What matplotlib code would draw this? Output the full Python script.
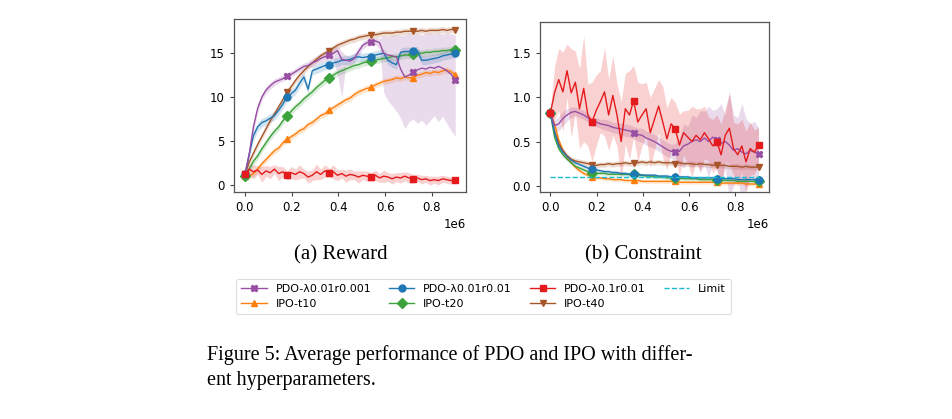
import numpy as np
import matplotlib
matplotlib.use("Agg")
import matplotlib.pyplot as plt
from matplotlib.ticker import ScalarFormatter

# training steps (both panels share the same grid, 0 .. 0.9e6)
steps = np.arange(51) * 18000

# ---------------- reward ----------------
rew_pdo_a = [1.2, 3.5, 6.6, 8.7, 10.0, 10.8, 11.3, 11.7, 11.9, 12.1,
             12.4, 12.6, 12.9, 13.2, 13.5, 13.6, 13.9, 14.1, 14.4, 14.6,
             14.8, 15.0, 15.3, 14.3, 14.2, 14.1, 14.4, 15.2, 15.9, 16.2,
             16.3, 16.4, 16.2, 15.0, 14.8, 14.7, 14.6, 13.2, 12.3, 12.5,
             12.9, 13.1, 13.3, 13.2, 13.4, 13.3, 13.5, 13.3, 13.0, 12.6,
             12.0]
rew_pdo_a_lo = [1.0, 3.0, 6.0, 8.2, 9.6, 10.4, 10.9, 11.3, 11.6, 11.8,
                12.1, 12.3, 12.6, 12.9, 13.2, 13.3, 13.5, 13.7, 13.9, 14.1,
                14.2, 14.4, 12.5, 10.0, 13.6, 13.6, 13.9, 14.7, 15.5, 15.8,
                15.9, 16.0, 15.5, 10.5, 9.6, 9.0, 8.4, 7.6, 6.4, 7.2,
                7.5, 7.0, 7.4, 6.8, 7.3, 7.9, 7.2, 7.8, 7.0, 6.2,
                5.5]
rew_pdo_a_hi = [1.4, 4.0, 7.2, 9.2, 10.4, 11.2, 11.7, 12.1, 12.3, 12.5,
                12.8, 13.0, 13.3, 13.6, 13.9, 14.1, 14.4, 14.7, 15.0, 15.2,
                15.4, 15.6, 15.8, 15.2, 14.8, 14.7, 15.0, 15.7, 16.3, 16.6,
                16.7, 16.8, 16.7, 17.0, 16.9, 17.0, 17.1, 17.0, 17.1, 17.2,
                17.1, 17.2, 17.1, 17.2, 17.3, 17.2, 17.3, 17.2, 17.3, 17.2,
                17.1]
rew_pdo_b = [1.2, 3.5, 5.6, 6.6, 7.1, 7.3, 7.6, 7.9, 8.5, 9.2,
             10.0, 10.4, 10.8, 11.6, 12.3, 10.9, 13.0, 13.2, 13.4, 13.6,
             13.7, 13.9, 14.0, 14.2, 14.2, 14.3, 14.5, 14.6, 14.5, 14.6,
             14.6, 14.8, 14.9, 15.0, 14.2, 13.9, 13.7, 15.1, 15.2, 15.2,
             15.2, 15.3, 14.2, 14.2, 14.3, 14.4, 14.5, 14.7, 14.8, 14.9,
             15.0]
rew_pdo_c = [1.2, 1.8, 1.5, 1.7, 1.2, 1.6, 1.4, 1.8, 1.3, 1.5,
             1.1, 1.4, 1.2, 1.5, 1.3, 0.9, 1.1, 1.5, 1.2, 1.6,
             1.4, 1.5, 1.1, 1.3, 1.0, 1.2, 1.1, 0.9, 1.1, 1.0,
             0.9, 1.1, 0.8, 1.0, 0.9, 0.7, 0.9, 0.8, 1.0, 0.8,
             0.7, 0.8, 0.6, 0.7, 0.5, 0.6, 0.5, 0.7, 0.6, 0.5,
             0.6]
rew_pdo_c_spread = [0.3, 0.6, 0.8, 0.5, 0.9, 0.6, 0.7, 0.5, 0.8, 0.6,
                    0.5, 0.7, 0.6, 0.8, 0.5, 0.7, 0.6, 0.9, 0.6, 0.7,
                    0.5, 0.8, 0.6, 0.5, 0.7, 0.6, 0.5, 0.7, 0.5, 0.6,
                    0.5, 0.6, 0.5, 0.7, 0.5, 0.6, 0.5, 0.6, 0.5, 0.6,
                    0.5, 0.4, 0.5, 0.4, 0.5, 0.4, 0.5, 0.4, 0.4, 0.4,
                    0.3]
rew_ipo_10 = [1.0, 1.0, 1.3, 1.8, 2.4, 2.9, 3.4, 3.9, 4.2, 4.8,
              5.2, 5.5, 5.8, 6.2, 6.4, 6.9, 7.1, 7.5, 7.9, 8.1,
              8.5, 8.8, 9.1, 9.4, 9.7, 9.9, 10.3, 10.6, 10.8, 11.0,
              11.1, 11.4, 11.6, 11.8, 11.9, 12.0, 12.2, 12.1, 12.3, 12.2,
              12.2, 12.5, 12.6, 12.8, 12.7, 12.9, 12.8, 13.0, 13.1, 12.9,
              12.5]
rew_ipo_20 = [1.0, 1.8, 2.7, 3.3, 4.1, 4.8, 5.5, 6.1, 6.6, 7.3,
              7.9, 8.4, 8.9, 9.3, 9.8, 10.2, 10.6, 11.1, 11.5, 11.9,
              12.2, 12.5, 12.8, 13.0, 13.2, 13.4, 13.6, 13.7, 13.9, 14.0,
              14.1, 14.2, 14.3, 14.4, 14.5, 14.6, 14.6, 14.7, 14.8, 14.8,
              14.9, 15.0, 15.0, 15.1, 15.1, 15.2, 15.2, 15.3, 15.3, 15.4,
              15.4]
rew_ipo_40 = [1.2, 2.6, 3.6, 4.6, 5.5, 6.4, 7.3, 8.1, 8.9, 9.7,
              10.6, 11.2, 11.9, 12.5, 13.0, 13.5, 13.9, 14.3, 14.7, 15.0,
              15.3, 15.6, 15.9, 16.1, 16.3, 16.5, 16.6, 16.8, 16.9, 17.0,
              17.1, 17.1, 17.2, 17.3, 17.3, 17.3, 17.4, 17.4, 17.5, 17.5,
              17.5, 17.5, 17.6, 17.5, 17.6, 17.6, 17.6, 17.7, 17.6, 17.7,
              17.7]

# ---------------- constraint ----------------
con_pdo_a = [0.82, 0.68, 0.70, 0.76, 0.80, 0.83, 0.84, 0.82, 0.80, 0.77,
             0.72, 0.72, 0.70, 0.69, 0.68, 0.66, 0.65, 0.64, 0.63, 0.62,
             0.60, 0.58, 0.57, 0.54, 0.52, 0.50, 0.47, 0.44, 0.41, 0.39,
             0.38, 0.39, 0.45, 0.47, 0.50, 0.52, 0.50, 0.54, 0.50, 0.55,
             0.52, 0.48, 0.50, 0.46, 0.40, 0.42, 0.38, 0.36, 0.40, 0.38,
             0.36]
con_pdo_a_spread = [0.02, 0.06, 0.08, 0.08, 0.07, 0.06, 0.05, 0.05, 0.05, 0.05,
                    0.05, 0.05, 0.05, 0.06, 0.06, 0.06, 0.06, 0.07, 0.07, 0.07,
                    0.07, 0.07, 0.08, 0.08, 0.08, 0.08, 0.08, 0.08, 0.08, 0.08,
                    0.10, 0.15, 0.25, 0.20, 0.30, 0.25, 0.35, 0.30, 0.40, 0.30,
                    0.35, 0.45, 0.30, 0.60, 0.40, 0.35, 0.55, 0.40, 0.30, 0.35,
                    0.30]
con_pdo_b = [0.82, 0.60, 0.45, 0.38, 0.33, 0.29, 0.26, 0.24, 0.22, 0.20,
             0.19, 0.18, 0.17, 0.16, 0.16, 0.15, 0.15, 0.14, 0.14, 0.13,
             0.13, 0.13, 0.12, 0.12, 0.12, 0.12, 0.11, 0.11, 0.11, 0.10,
             0.10, 0.10, 0.10, 0.10, 0.09, 0.09, 0.09, 0.09, 0.09, 0.09,
             0.08, 0.08, 0.08, 0.08, 0.08, 0.07, 0.07, 0.07, 0.07, 0.07,
             0.07]
con_pdo_c = [0.82, 1.05, 1.20, 1.06, 1.30, 1.05, 1.17, 0.87, 1.10, 0.80,
             0.72, 0.85, 0.95, 1.06, 0.80, 1.02, 0.80, 0.50, 0.87, 0.80,
             0.96, 0.72, 0.80, 0.87, 0.60, 0.75, 0.90, 0.72, 0.53, 0.70,
             0.64, 0.46, 0.60, 0.55, 0.50, 0.57, 0.52, 0.60, 0.53, 0.45,
             0.50, 0.35, 0.57, 0.65, 0.42, 0.35, 0.45, 0.27, 0.42, 0.38,
             0.46]
con_pdo_c_spread = [0.05, 0.30, 0.35, 0.45, 0.30, 0.50, 0.35, 0.45, 0.60, 0.35,
                    0.45, 0.40, 0.35, 0.50, 0.40, 0.45, 0.35, 0.45, 0.40, 0.50,
                    0.40, 0.45, 0.35, 0.30, 0.40, 0.35, 0.30, 0.40, 0.35, 0.30,
                    0.30, 0.35, 0.25, 0.30, 0.40, 0.30, 0.35, 0.30, 0.25, 0.30,
                    0.30, 0.35, 0.30, 0.40, 0.30, 0.35, 0.30, 0.35, 0.30, 0.25,
                    0.20]
con_ipo_10 = [0.82, 0.70, 0.52, 0.40, 0.32, 0.26, 0.21, 0.17, 0.14, 0.12,
              0.10, 0.09, 0.09, 0.08, 0.08, 0.07, 0.07, 0.07, 0.06, 0.06,
              0.06, 0.06, 0.05, 0.05, 0.05, 0.05, 0.05, 0.05, 0.05, 0.05,
              0.05, 0.04, 0.04, 0.04, 0.04, 0.04, 0.04, 0.04, 0.04, 0.04,
              0.04, 0.03, 0.03, 0.03, 0.03, 0.03, 0.03, 0.02, 0.02, 0.02,
              0.02]
con_ipo_20 = [0.82, 0.55, 0.42, 0.35, 0.30, 0.26, 0.22, 0.20, 0.18, 0.16,
              0.15, 0.14, 0.14, 0.14, 0.13, 0.13, 0.13, 0.13, 0.13, 0.13,
              0.13, 0.12, 0.12, 0.11, 0.11, 0.10, 0.10, 0.10, 0.09, 0.09,
              0.09, 0.09, 0.08, 0.08, 0.08, 0.08, 0.07, 0.07, 0.07, 0.07,
              0.06, 0.06, 0.06, 0.06, 0.06, 0.05, 0.05, 0.05, 0.05, 0.05,
              0.05]
con_ipo_40 = [0.82, 0.62, 0.48, 0.40, 0.34, 0.30, 0.28, 0.27, 0.26, 0.25,
              0.24, 0.23, 0.24, 0.24, 0.25, 0.24, 0.25, 0.25, 0.26, 0.25,
              0.26, 0.26, 0.27, 0.26, 0.27, 0.26, 0.27, 0.26, 0.26, 0.26,
              0.25, 0.26, 0.25, 0.25, 0.25, 0.24, 0.25, 0.24, 0.24, 0.23,
              0.24, 0.23, 0.23, 0.22, 0.22, 0.22, 0.21, 0.22, 0.21, 0.21,
              0.21]
limit_value = 0.1

# half-widths of the shaded bands for the smoother runs
rew_spread = {'PDO-λ0.01r0.01': 0.5, 'IPO-t10': 0.35, 'IPO-t20': 0.4, 'IPO-t40': 0.35}
con_spread = {'PDO-λ0.01r0.01': 0.02, 'IPO-t10': 0.02, 'IPO-t20': 0.02, 'IPO-t40': 0.03}

colors = {'PDO-λ0.01r0.001': '#984ea3', 'PDO-λ0.01r0.01': '#1f77b4',
          'PDO-λ0.1r0.01': '#e41a1c', 'IPO-t10': '#ff7f0e',
          'IPO-t20': '#3ca23c', 'IPO-t40': '#a65628'}
markers = {'PDO-λ0.01r0.001': 'X', 'PDO-λ0.01r0.01': 'o', 'PDO-λ0.1r0.01': 's',
           'IPO-t10': '^', 'IPO-t20': 'D', 'IPO-t40': 'v'}

reward = {'PDO-λ0.01r0.001': (rew_pdo_a, rew_pdo_a_lo, rew_pdo_a_hi),
          'PDO-λ0.01r0.01': (rew_pdo_b, None, None),
          'PDO-λ0.1r0.01': (rew_pdo_c, None, None),
          'IPO-t10': (rew_ipo_10, None, None),
          'IPO-t20': (rew_ipo_20, None, None),
          'IPO-t40': (rew_ipo_40, None, None)}
constraint = {'PDO-λ0.01r0.001': con_pdo_a, 'PDO-λ0.01r0.01': con_pdo_b,
              'PDO-λ0.1r0.01': con_pdo_c, 'IPO-t10': con_ipo_10,
              'IPO-t20': con_ipo_20, 'IPO-t40': con_ipo_40}

plt.rcParams['font.family'] = 'DejaVu Sans'
fig = plt.figure(figsize=(9.52, 4.19), dpi=100)
ax1 = fig.add_axes([0.2458, 0.5418, 0.2437, 0.4129])
ax2 = fig.add_axes([0.5672, 0.5418, 0.2405, 0.4057])

draw_order = ['IPO-t10', 'IPO-t20', 'IPO-t40', 'PDO-λ0.01r0.01',
              'PDO-λ0.01r0.001', 'PDO-λ0.1r0.01']
handles = {}

# reward panel
for name in draw_order:
    y, lo, hi = reward[name]
    y = np.array(y)
    if lo is None:
        if name == 'PDO-λ0.1r0.01':
            s = np.array(rew_pdo_c_spread)
        else:
            s = rew_spread[name]
        lo, hi = y - s, y + s
    ax1.fill_between(steps, lo, hi, color=colors[name], alpha=0.2, lw=0)
    h, = ax1.plot(steps, y, color=colors[name], lw=1.0, marker=markers[name],
                  markersize=5, markevery=10, label=name)
    handles[name] = h

# constraint panel
for name in draw_order:
    y = np.array(constraint[name])
    if name == 'PDO-λ0.01r0.001':
        s = np.array(con_pdo_a_spread)
    elif name == 'PDO-λ0.1r0.01':
        s = np.array(con_pdo_c_spread)
    else:
        s = con_spread[name]
    ax2.fill_between(steps, y - s, y + s, color=colors[name], alpha=0.2, lw=0)
    ax2.plot(steps, y, color=colors[name], lw=1.0, marker=markers[name],
             markersize=5, markevery=10)
lim, = ax2.plot(steps, np.full(len(steps), limit_value), color='#17becf',
                lw=1.0, ls='--', label='Limit')

ax1.set_xlim(-0.047e6, 0.946e6)
ax1.set_ylim(-0.8, 18.9)
ax1.set_yticks([0, 5, 10, 15])
ax2.set_xlim(-0.045e6, 0.945e6)
ax2.set_ylim(-0.07, 1.85)
ax2.set_yticks([0.0, 0.5, 1.0, 1.5])

for ax in (ax1, ax2):
    ax.set_xticks([0, 0.2e6, 0.4e6, 0.6e6, 0.8e6])
    fmt = ScalarFormatter()
    fmt.set_powerlimits((6, 6))
    ax.xaxis.set_major_formatter(fmt)
    ax.tick_params(labelsize=8.5, length=3, width=0.8, color='#444444')
    ax.xaxis.get_offset_text().set_fontsize(8.5)
    for sp in ax.spines.values():
        sp.set_color('#555555')
        sp.set_linewidth(0.9)

serif = 'Liberation Serif'
fig.text(341 / 952, 1 - 255 / 419, '(a) Reward', ha='center', va='center',
         family=serif, fontsize=15)
fig.text(643 / 952, 1 - 255 / 419, '(b) Constraint', ha='center', va='center',
         family=serif, fontsize=15)

order = ['PDO-λ0.01r0.001', 'IPO-t10', 'PDO-λ0.01r0.01', 'IPO-t20',
         'PDO-λ0.1r0.01', 'IPO-t40']
leg = fig.legend([handles[n] for n in order] + [lim], order + ['Limit'],
                 loc='center', bbox_to_anchor=(483.5 / 952, 1 - 296.5 / 419),
                 ncol=4, fontsize=8, handlelength=2.3, columnspacing=1.6,
                 borderpad=0.45, labelspacing=0.4, framealpha=1.0)
leg.get_frame().set_edgecolor('#dddddd')
leg.get_frame().set_linewidth(0.8)

fig.text(207 / 952, 1 - 355 / 419,
         'Figure 5: Average performance of PDO and IPO with differ-',
         ha='left', va='center', family=serif, fontsize=14.5)
fig.text(207 / 952, 1 - 380 / 419, 'ent hyperparameters.',
         ha='left', va='center', family=serif, fontsize=14.5)

fig.savefig('out.png', dpi=100)
